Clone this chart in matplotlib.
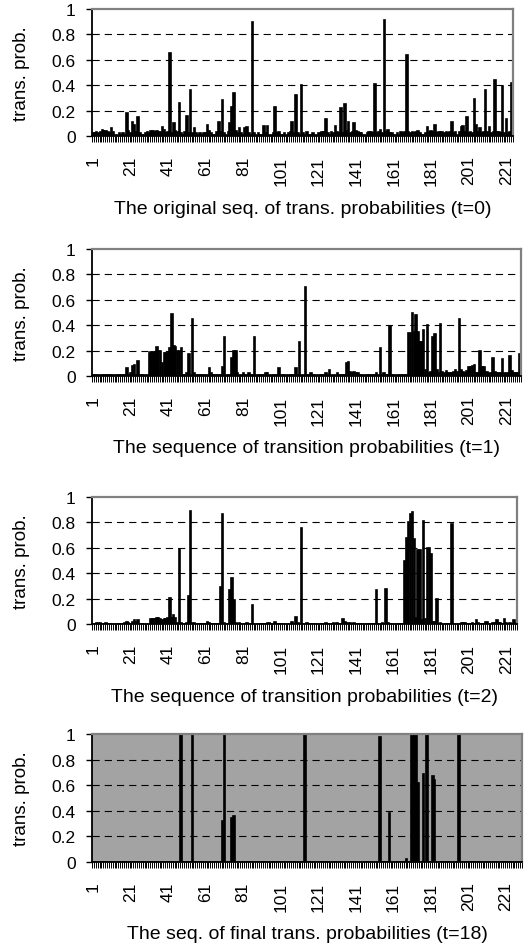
import numpy as np
import matplotlib
matplotlib.use('Agg')
import matplotlib.pyplot as plt

plt.rcParams['font.family'] = ['Liberation Sans', 'DejaVu Sans']

# ---------------- data ----------------
x_tick_values = [1, 21, 41, 61, 81, 101, 121, 141, 161, 181, 201, 221]
y_ticks = [0, 0.2, 0.4, 0.6, 0.8, 1]
y_tick_labels = ['0', '0.2', '0.4', '0.6', '0.8', '1']
y_label = 'trans. prob.'
titles = [
    'The original seq. of trans. probabilities (t=0)',
    'The sequence of transition probabilities (t=1)',
    'The sequence of transition probabilities (t=2)',
    'The seq. of final trans. probabilities (t=18)',
]

prob_t0 = [
    0.02, 0.02, 0.03, 0.02, 0.03, 0.05, 0.04, 0.04, 0.03, 0.02,
    0.06, 0.03, 0.01, 0.01, 0.02, 0.01, 0.02, 0.01, 0.18, 0.04,
    0.02, 0.11, 0.09, 0.03, 0.15, 0.02, 0.01, 0.01, 0.02, 0.03,
    0.02, 0.04, 0.04, 0.03, 0.04, 0.03, 0.03, 0.07, 0.05, 0.02,
    0.03, 0.65, 0.02, 0.10, 0.04, 0.03, 0.26, 0.02, 0.01, 0.03,
    0.16, 0.02, 0.36, 0.02, 0.06, 0.02, 0.01, 0.02, 0.01, 0.02,
    0.02, 0.09, 0.04, 0.02, 0.01, 0.01, 0.03, 0.11, 0.03, 0.28,
    0.02, 0.01, 0.03, 0.10, 0.23, 0.34, 0.04, 0.02, 0.06, 0.02,
    0.01, 0.06, 0.07, 0.02, 0.01, 0.90, 0.02, 0.01, 0.02, 0.01,
    0.01, 0.08, 0.02, 0.08, 0.01, 0.01, 0.02, 0.23, 0.02, 0.03,
    0.01, 0.01, 0.02, 0.01, 0.02, 0.03, 0.11, 0.02, 0.32, 0.02,
    0.01, 0.40, 0.02, 0.01, 0.03, 0.01, 0.01, 0.02, 0.01, 0.01,
    0.02, 0.02, 0.03, 0.03, 0.13, 0.02, 0.01, 0.03, 0.02, 0.08,
    0.03, 0.02, 0.22, 0.02, 0.25, 0.04, 0.11, 0.02, 0.03, 0.10,
    0.04, 0.03, 0.02, 0.02, 0.01, 0.01, 0.02, 0.03, 0.03, 0.02,
    0.41, 0.02, 0.03, 0.05, 0.02, 0.91, 0.03, 0.05, 0.02, 0.02,
    0.01, 0.01, 0.02, 0.01, 0.03, 0.02, 0.03, 0.64, 0.03, 0.02,
    0.03, 0.02, 0.03, 0.04, 0.02, 0.01, 0.01, 0.02, 0.07, 0.03,
    0.04, 0.03, 0.09, 0.02, 0.03, 0.03, 0.03, 0.02, 0.03, 0.02,
    0.03, 0.11, 0.02, 0.03, 0.01, 0.03, 0.07, 0.08, 0.03, 0.15,
    0.02, 0.03, 0.02, 0.29, 0.09, 0.03, 0.06, 0.02, 0.03, 0.36,
    0.03, 0.07, 0.02, 0.03, 0.44, 0.03, 0.03, 0.02, 0.39, 0.02,
    0.13, 0.02, 0.03, 0.42,
]

prob_t1 = [
    0.01, 0.01, 0.01, 0.01, 0.01, 0.01, 0.01, 0.01, 0.01, 0.01,
    0.01, 0.01, 0.01, 0.01, 0.01, 0.01, 0.01, 0.01, 0.06, 0.01,
    0.02, 0.08, 0.09, 0.01, 0.12, 0.01, 0.01, 0.01, 0.01, 0.01,
    0.18, 0.19, 0.19, 0.18, 0.23, 0.20, 0.20, 0.10, 0.18, 0.18,
    0.18, 0.22, 0.49, 0.24, 0.23, 0.20, 0.20, 0.22, 0.01, 0.01,
    0.02, 0.17, 0.01, 0.45, 0.02, 0.01, 0.01, 0.01, 0.01, 0.01,
    0.01, 0.01, 0.06, 0.02, 0.01, 0.01, 0.01, 0.01, 0.01, 0.07,
    0.31, 0.01, 0.01, 0.01, 0.14, 0.20, 0.20, 0.02, 0.01, 0.01,
    0.02, 0.01, 0.01, 0.02, 0.01, 0.01, 0.31, 0.01, 0.01, 0.01,
    0.01, 0.01, 0.02, 0.02, 0.01, 0.01, 0.01, 0.01, 0.01, 0.06,
    0.01, 0.01, 0.01, 0.01, 0.01, 0.01, 0.01, 0.01, 0.06, 0.01,
    0.27, 0.01, 0.01, 0.70, 0.01, 0.01, 0.02, 0.01, 0.01, 0.01,
    0.01, 0.01, 0.01, 0.01, 0.02, 0.01, 0.05, 0.01, 0.01, 0.01,
    0.02, 0.01, 0.01, 0.01, 0.01, 0.10, 0.11, 0.03, 0.02, 0.03,
    0.02, 0.02, 0.01, 0.01, 0.01, 0.01, 0.01, 0.01, 0.01, 0.01,
    0.01, 0.02, 0.01, 0.22, 0.01, 0.02, 0.01, 0.01, 0.39, 0.01,
    0.01, 0.01, 0.01, 0.01, 0.01, 0.01, 0.01, 0.01, 0.34, 0.34,
    0.50, 0.35, 0.48, 0.35, 0.27, 0.27, 0.36, 0.05, 0.40, 0.02,
    0.03, 0.31, 0.33, 0.05, 0.02, 0.41, 0.03, 0.02, 0.04, 0.02,
    0.02, 0.02, 0.03, 0.05, 0.03, 0.45, 0.05, 0.03, 0.02, 0.04,
    0.07, 0.07, 0.08, 0.09, 0.02, 0.02, 0.20, 0.07, 0.07, 0.03,
    0.03, 0.02, 0.02, 0.14, 0.03, 0.02, 0.02, 0.02, 0.13, 0.02,
    0.02, 0.02, 0.16, 0.04, 0.02, 0.02, 0.02, 0.17,
]

prob_t2 = [
    0.005, 0.005, 0.01, 0.01, 0.01, 0.005, 0.005, 0.01, 0.005, 0.005,
    0.005, 0.005, 0.005, 0.005, 0.005, 0.005, 0.005, 0.01, 0.02, 0.01,
    0.005, 0.02, 0.03, 0.02, 0.03, 0.005, 0.005, 0.005, 0.005, 0.005,
    0.005, 0.04, 0.04, 0.04, 0.05, 0.05, 0.04, 0.03, 0.04, 0.04,
    0.05, 0.21, 0.05, 0.07, 0.05, 0.01, 0.59, 0.01, 0.005, 0.005,
    0.01, 0.22, 0.89, 0.01, 0.01, 0.005, 0.005, 0.005, 0.005, 0.005,
    0.005, 0.02, 0.01, 0.005, 0.005, 0.005, 0.005, 0.005, 0.29, 0.87,
    0.01, 0.005, 0.005, 0.27, 0.36, 0.19, 0.01, 0.005, 0.01, 0.005,
    0.005, 0.005, 0.01, 0.005, 0.005, 0.15, 0.005, 0.005, 0.005, 0.005,
    0.005, 0.005, 0.005, 0.01, 0.01, 0.005, 0.005, 0.02, 0.005, 0.005,
    0.005, 0.005, 0.005, 0.005, 0.005, 0.005, 0.02, 0.005, 0.06, 0.01,
    0.005, 0.76, 0.005, 0.005, 0.01, 0.005, 0.005, 0.005, 0.005, 0.005,
    0.005, 0.005, 0.005, 0.005, 0.01, 0.005, 0.005, 0.005, 0.01, 0.005,
    0.01, 0.005, 0.005, 0.04, 0.02, 0.01, 0.01, 0.01, 0.005, 0.01,
    0.005, 0.005, 0.005, 0.005, 0.005, 0.005, 0.005, 0.005, 0.005, 0.005,
    0.005, 0.27, 0.005, 0.005, 0.01, 0.005, 0.28, 0.01, 0.005, 0.005,
    0.005, 0.005, 0.005, 0.005, 0.005, 0.005, 0.50, 0.68, 0.80, 0.87,
    0.88, 0.67, 0.05, 0.58, 0.58, 0.03, 0.81, 0.04, 0.60, 0.60,
    0.55, 0.02, 0.02, 0.20, 0.005, 0.01, 0.005, 0.005, 0.005, 0.005,
    0.005, 0.79, 0.005, 0.005, 0.005, 0.005, 0.01, 0.01, 0.01, 0.005,
    0.005, 0.005, 0.01, 0.005, 0.03, 0.01, 0.005, 0.005, 0.005, 0.02,
    0.02, 0.005, 0.005, 0.01, 0.01, 0.03, 0.01, 0.01, 0.005, 0.04,
    0.01, 0.005, 0.01, 0.005, 0.03, 0.01,
]

prob_t18 = [
    0, 0, 0, 0, 0, 0, 0, 0, 0, 0,
    0, 0, 0, 0, 0, 0, 0, 0, 0, 0,
    0, 0, 0, 0, 0, 0, 0, 0, 0, 0,
    0, 0, 0, 0, 0, 0, 0, 0, 0, 0,
    0, 0, 0, 0, 0, 0, 0, 1.0, 0, 0,
    0, 0, 0, 1.0, 0, 0, 0, 0, 0, 0,
    0, 0, 0, 0, 0, 0, 0, 0, 0, 0.32,
    1.0, 0, 0, 0, 0.34, 0.36, 0, 0, 0, 0,
    0, 0, 0, 0, 0, 0, 0, 0, 0, 0,
    0, 0, 0, 0, 0, 0, 0, 0, 0, 0,
    0, 0, 0, 0, 0, 0, 0, 0, 0, 0,
    0, 0, 0, 1.0, 0, 0, 0, 0, 0, 0,
    0, 0, 0, 0, 0, 0, 0, 0, 0, 0,
    0, 0, 0, 0, 0, 0, 0, 0, 0, 0,
    0, 0, 0, 0, 0, 0, 0, 0, 0, 0,
    0, 0, 0, 0.98, 0, 0, 0, 0, 0.38, 0,
    0, 0, 0, 0, 0, 0, 0, 0.02, 0, 0,
    1.0, 1.0, 1.0, 0.62, 0, 0, 0.69, 0, 1.0, 0,
    0, 0.67, 0.64, 0, 0, 0, 0, 0, 0, 0,
    0, 0, 0, 0, 0, 1.0, 0, 0, 0, 0,
    0, 0, 0, 0, 0, 0, 0, 0, 0, 0,
    0, 0, 0, 0, 0, 0, 0, 0, 0, 0,
    0, 0, 0, 0, 0, 0, 0, 0, 0,
]

series = [prob_t0, prob_t1, prob_t2, prob_t18]

# ---------------- layout ----------------
W, H = 526, 953
fig = plt.figure(figsize=(W / 100, H / 100), dpi=100)
fig.patch.set_facecolor('white')

# (left, right, top, bottom) of each plot area in pixels
boxes = [(92, 513, 10, 137), (92, 520.5, 250, 377),
         (92, 516.7, 498, 625.3), (92, 522, 735, 863)]
backgrounds = ['white', 'white', 'white', '#a3a3a3']

for data, title, (l, r, t, b), bg in zip(series, titles, boxes, backgrounds):
    ax = fig.add_axes([l / W, 1 - b / H, (r - l) / W, (b - t) / H])
    n = len(data)
    cats = np.arange(1, n + 1)
    ax.set_facecolor(bg)
    for gy in y_ticks[1:-1]:
        ax.axhline(gy, color='black', lw=0.8, dashes=(6.5, 4.5), zorder=1)
    ax.bar(cats, data, width=0.8, color='black', edgecolor='black',
           linewidth=1.2, zorder=2)
    ax.set_xlim(0.5, n + 0.5)
    ax.set_ylim(0, 1)
    ax.set_yticks(y_ticks)
    ax.set_yticklabels(y_tick_labels, fontsize=12.5)
    ax.tick_params(axis='y', direction='out', length=4.3, width=1.0,
                   pad=7.5, color='black')
    ax.set_xticks(x_tick_values)
    ax.set_xticklabels([str(v) for v in x_tick_values], rotation=90,
                       fontsize=12.5)
    ax.set_xticks(np.arange(0.5, n + 1.5, 1), minor=True)
    ax.tick_params(axis='x', which='major', length=0, pad=14)
    ax.tick_params(axis='x', which='minor', length=4.3, width=0.7,
                   direction='out', color='black')
    for side in ('top', 'right'):
        ax.spines[side].set_color('#808080')
        ax.spines[side].set_linewidth(1.6)
    for side in ('left', 'bottom'):
        ax.spines[side].set_color('black')
        ax.spines[side].set_linewidth(1.3)
    fig.text((l + r) / 2 / W, 1 - (b + 72) / H, title, ha='center',
             va='center', fontsize=14)
    fig.text(22 / W, 1 - (t + b) / 2 / H, y_label, rotation=90,
             ha='center', va='center', fontsize=13.5)

fig.savefig('out.png', dpi=100, facecolor='white')
